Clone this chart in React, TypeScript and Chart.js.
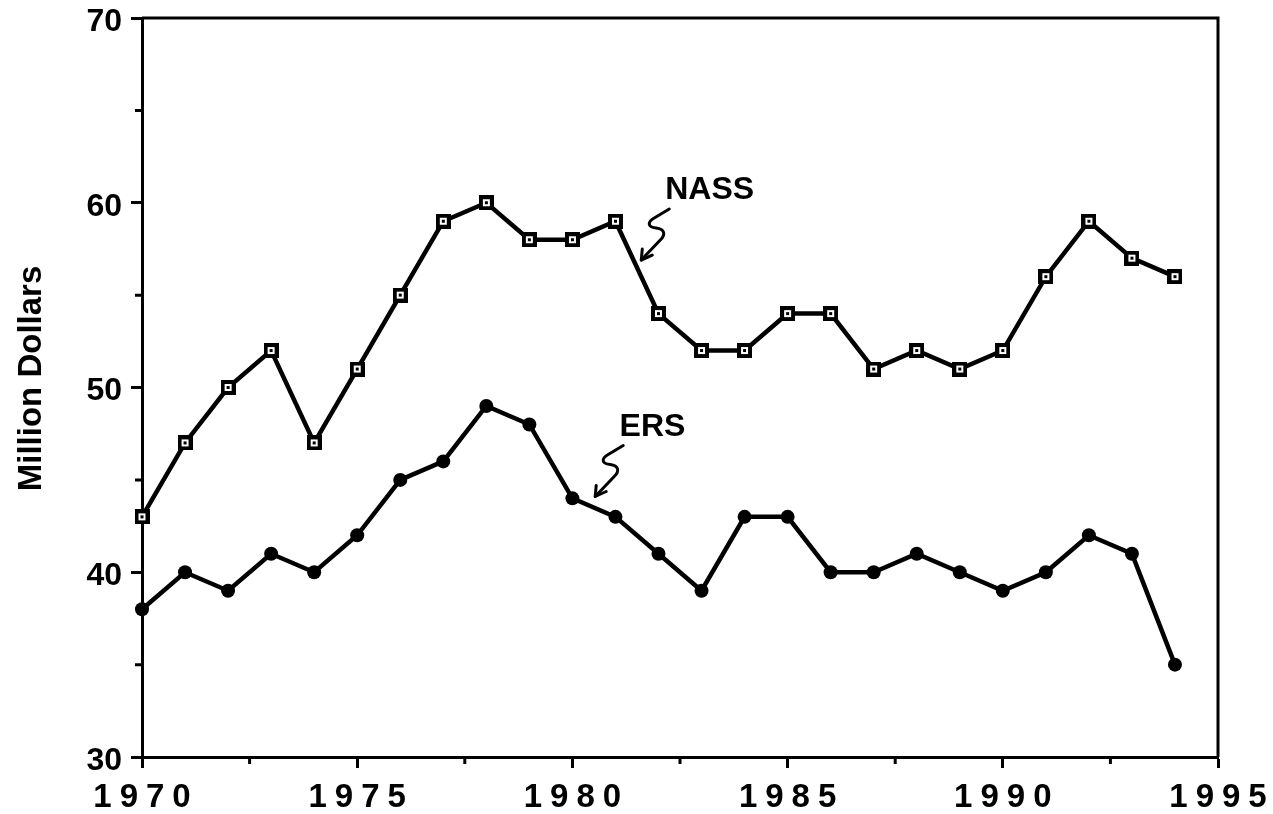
import React, { useEffect, useRef } from "react";
import { Chart, registerables } from "chart.js";

Chart.register(...registerables);

// ---- Data ----
const years = [
  1970, 1971, 1972, 1973, 1974, 1975, 1976, 1977, 1978, 1979, 1980, 1981, 1982,
  1983, 1984, 1985, 1986, 1987, 1988, 1989, 1990, 1991, 1992, 1993, 1994,
];
const nassValues = [
  43, 47, 50, 52, 47, 51, 55, 59, 60, 58, 58, 59, 54, 52, 52, 54, 54, 51, 52, 51,
  52, 56, 59, 57, 56,
];
const ersValues = [
  38, 40, 39, 41, 40, 42, 45, 46, 49, 48, 44, 43, 41, 39, 43, 43, 40, 40, 41, 40,
  39, 40, 42, 41, 35,
];
const seriesNames = ["NASS", "ERS"];
const xTickLabels = [1970, 1975, 1980, 1985, 1990, 1995];
const xMinorTicks = [1972.5, 1977.5, 1982.5, 1987.5, 1992.5];
const yMinorTicks = [35, 45, 55, 65];
const yAxisTitle = "Million Dollars";

// annotation anchors in data units
const labelAnchors = [
  { text: "NASS", x: 1983.19, y: 60.7, tipX: 1981.6, tipY: 56.9 },
  { text: "ERS", x: 1981.86, y: 47.86, tipX: 1980.53, tipY: 44.1 },
];

const FONT = "'Liberation Sans', Arial, Helvetica, sans-serif";

function makeSquareMarker(): HTMLCanvasElement {
  const c = document.createElement("canvas");
  c.width = 15;
  c.height = 15;
  const g = c.getContext("2d")!;
  g.fillStyle = "#000";
  g.fillRect(0, 0, 15, 15);
  g.fillStyle = "#fff";
  g.fillRect(4, 4, 7, 7);
  g.fillStyle = "#000";
  g.fillRect(6, 6, 3, 3);
  return c;
}

function drawSquiggle(ctx: CanvasRenderingContext2D, tx: number, ty: number) {
  ctx.save();
  ctx.translate(tx, ty);
  ctx.strokeStyle = "#000";
  ctx.lineWidth = 3;
  ctx.lineCap = "round";
  ctx.lineJoin = "round";
  ctx.beginPath();
  ctx.moveTo(0, 0);
  ctx.lineTo(19, -20);
  ctx.bezierCurveTo(25, -26, 23, -31, 15, -32);
  ctx.bezierCurveTo(6, -33, 6, -38, 13, -42);
  ctx.lineTo(28, -51);
  ctx.stroke();
  // arrow head
  ctx.beginPath();
  ctx.moveTo(1, -11);
  ctx.lineTo(0, 0);
  ctx.lineTo(11, -5);
  ctx.stroke();
  ctx.restore();
}

const decorPlugin = {
  id: "decor",
  afterDraw(chart: any) {
    const ctx: CanvasRenderingContext2D = chart.ctx;
    const { left, right, top, bottom } = chart.chartArea;
    const xs = chart.scales.x;
    const ys = chart.scales.y;
    ctx.save();
    ctx.strokeStyle = "#000";
    ctx.lineWidth = 3;
    ctx.lineCap = "butt";
    // frame top and right
    ctx.beginPath();
    ctx.moveTo(left, top);
    ctx.lineTo(right + 1.5, top);
    ctx.moveTo(right, top);
    ctx.lineTo(right, bottom);
    ctx.stroke();
    // minor ticks
    ctx.beginPath();
    for (const v of yMinorTicks) {
      const py = ys.getPixelForValue(v);
      ctx.moveTo(left - 7, py);
      ctx.lineTo(left, py);
    }
    for (const v of xMinorTicks) {
      const px = xs.getPixelForValue(v);
      ctx.moveTo(px, bottom);
      ctx.lineTo(px, bottom + 7);
    }
    ctx.stroke();

    // x tick labels with letter spacing
    ctx.fillStyle = "#000";
    ctx.font = `bold 33px ${FONT}`;
    (ctx as any).letterSpacing = "8px";
    ctx.textAlign = "center";
    ctx.textBaseline = "alphabetic";
    for (const v of xTickLabels) {
      const px = xs.getPixelForValue(v);
      ctx.fillText(String(v), px + 4, bottom + 50);
    }
    (ctx as any).letterSpacing = "0px";

    // y axis title
    ctx.save();
    ctx.font = `bold 33px ${FONT}`;
    ctx.translate(41, (top + bottom) / 2 - 9);
    ctx.rotate(-Math.PI / 2);
    ctx.textAlign = "center";
    ctx.textBaseline = "alphabetic";
    ctx.fillText(yAxisTitle, 0, 0);
    ctx.restore();

    // series annotations
    ctx.font = `bold 32px ${FONT}`;
    ctx.textAlign = "center";
    ctx.textBaseline = "middle";
    for (const a of labelAnchors) {
      ctx.fillText(a.text, xs.getPixelForValue(a.x), ys.getPixelForValue(a.y));
      drawSquiggle(ctx, xs.getPixelForValue(a.tipX), ys.getPixelForValue(a.tipY));
    }
    ctx.restore();
  },
};

export default function App() {
  const ref = useRef<HTMLCanvasElement | null>(null);
  useEffect(() => {
    if (!ref.current) return;
    const marker = makeSquareMarker();
    const axisCommon = {
      grid: {
        drawOnChartArea: false,
        drawTicks: true,
        tickLength: 11,
        tickWidth: 3,
        tickColor: "#000",
        color: "#000",
      },
      border: { display: true, color: "#000", width: 3 },
    };
    const chart = new Chart(ref.current, {
      type: "line",
      data: {
        datasets: [
          {
            label: seriesNames[0],
            data: years.map((y, i) => ({ x: y, y: nassValues[i] })),
            borderColor: "#000",
            borderWidth: 4.5,
            tension: 0,
            pointStyle: marker as any,
            pointRadius: 7,
            clip: false as any,
          },
          {
            label: seriesNames[1],
            data: years.map((y, i) => ({ x: y, y: ersValues[i] })),
            borderColor: "#000",
            borderWidth: 4.5,
            tension: 0,
            pointStyle: "circle",
            pointRadius: 7,
            pointBackgroundColor: "#000",
            pointBorderColor: "#000",
            pointBorderWidth: 0,
            clip: false as any,
          },
        ],
      },
      options: {
        responsive: false,
        animation: false,
        devicePixelRatio: 1,
        layout: { padding: { top: 18, right: 55, left: 0, bottom: 0 } },
        plugins: {
          legend: { display: false },
          tooltip: { enabled: false },
        },
        scales: {
          x: {
            type: "linear",
            min: 1970,
            max: 1995,
            ticks: { display: false, stepSize: 5 },
            ...axisCommon,
            afterFit: (s: any) => {
              s.height = 57;
              s.paddingLeft = 0;
              s.paddingRight = 0;
            },
          },
          y: {
            type: "linear",
            min: 30,
            max: 70,
            ticks: {
              stepSize: 10,
              color: "#000",
              padding: 9,
              labelOffset: 4,
              font: { family: FONT, weight: "bold", size: 32, lineHeight: 1 },
            },
            ...axisCommon,
            afterFit: (s: any) => {
              s.width = 142;
              s.paddingTop = 0;
              s.paddingBottom = 0;
            },
          },
        },
      } as any,
      plugins: [decorPlugin],
    });
    return () => chart.destroy();
  }, []);
  return (
    <div style={{ position: "absolute", left: 0, top: 0, width: 1273, height: 814, background: "#fff" }}>
      <canvas ref={ref} width={1273} height={814} style={{ display: "block" }} />
    </div>
  );
}
